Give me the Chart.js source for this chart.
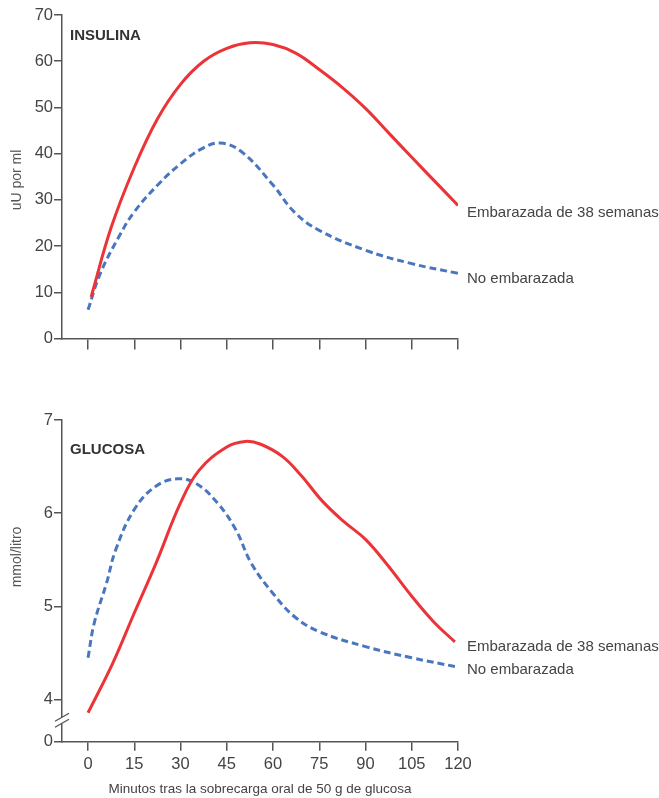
<!DOCTYPE html>
<html>
<head>
<meta charset="utf-8">
<title>Insulina y glucosa tras sobrecarga oral de glucosa</title>
<script src="https://cdn.jsdelivr.net/npm/chart.js@4.4.0/dist/chart.umd.min.js"></script>
<style>
  body { margin: 0; background: #fff; }
  .wrap { position: relative; width: 659px; height: 798px; }
  canvas { position: absolute; left: 0; }
  #insulinChart { top: 0; }
  #glucoseChart { top: 400px; }
</style>
</head>
<body>
<div class="wrap">
  <canvas id="insulinChart" width="659" height="370"></canvas>
  <canvas id="glucoseChart" width="659" height="398"></canvas>
</div>
<script>
// minutes after the 50 g oral glucose load
const minuteTicks = [0, 15, 30, 45, 60, 75, 90, 105, 120];
const insulinTicks = [0, 10, 20, 30, 40, 50, 60, 70];
const glucoseTicks = [4, 5, 6, 7];
const glucoseBreak = 3.55;   // foot of the broken axis, labelled "0"

const seriesNames = ['Embarazada de 38 semanas', 'No embarazada'];

// insulin, uU por ml
const insulinPregMin = [1, 7.5, 15, 22.5, 30, 37.5, 45, 52.5, 60, 67.5, 75, 82.5, 90, 97.5, 105, 112.5, 120];
const insulinPreg    = [9, 24, 37, 47.5, 55, 60, 62.8, 64, 63.6, 61.7, 58.2, 54.3, 49.8, 44.5, 39.2, 34, 28.8];
const insulinNoPregMin = [0, 4, 10, 15, 23, 30, 37, 43, 50, 60, 67, 75, 90, 105, 120];
const insulinNoPreg    = [6.2, 14.1, 22, 27.4, 33.5, 37.8, 41.1, 42.3, 40.3, 33.2, 27.3, 23.4, 19.1, 16.2, 14.1];

// glucose, mmol/litro
const glucosePregMin = [0, 8, 15, 22, 30, 36, 45, 51, 56, 63, 69, 76, 83, 90, 97, 105, 112, 119];
const glucosePreg    = [3.86, 4.39, 4.93, 5.46, 6.11, 6.46, 6.71, 6.77, 6.74, 6.61, 6.41, 6.13, 5.91, 5.72, 5.45, 5.11, 4.84, 4.62];
const glucoseNoPregMin = [0, 2, 6, 9, 15, 22, 29, 35, 42, 48, 53, 60, 67, 75, 90, 105, 120];
const glucoseNoPreg    = [4.45, 4.82, 5.25, 5.61, 6.04, 6.29, 6.37, 6.32, 6.11, 5.82, 5.46, 5.14, 4.89, 4.73, 4.57, 4.45, 4.35];

const RED = '#ec3338';
const BLUE = '#4a76c0';
const AXIS = '#555';
const TEXT = '#444';
const FONT = '"Liberation Sans", Arial, sans-serif';

function toPoints(xs, ys) {
  return xs.map((x, i) => ({ x: x, y: ys[i] }));
}

// panel title, y title, end-of-line labels and the axis break
const annotate = {
  id: 'annotate',
  afterDatasetsDraw(chart, args, opts) {
    const ctx = chart.ctx;
    const area = chart.chartArea;
    ctx.save();
    ctx.textBaseline = 'middle';

    ctx.fillStyle = '#333';
    ctx.font = 'bold 15px ' + FONT;
    ctx.textAlign = 'left';
    ctx.fillText(opts.title, area.left + 8, area.top + opts.titleDy);

    ctx.save();
    ctx.translate(17, opts.yTitleY);
    ctx.rotate(-Math.PI / 2);
    ctx.textAlign = 'center';
    ctx.fillStyle = '#555';
    ctx.font = '14px ' + FONT;
    ctx.fillText(opts.yTitle, 0, 0);
    ctx.restore();

    ctx.fillStyle = TEXT;
    ctx.font = '15px ' + FONT;
    ctx.textAlign = 'left';
    chart.data.datasets.forEach((ds, i) => {
      const pts = chart.getDatasetMeta(i).data;
      const last = pts[pts.length - 1];
      ctx.fillText(ds.label, area.right + 9, last.y + opts.labelDy[i]);
    });

    if (opts.axisBreak) {
      const y = chart.scales.y.getPixelForValue(opts.axisBreak);
      const x = area.left;
      ctx.fillStyle = '#fff';
      ctx.fillRect(x - 2, y - 3, 4, 6);
      ctx.strokeStyle = AXIS;
      ctx.lineWidth = 1.3;
      ctx.beginPath();
      ctx.moveTo(x - 7, y + 1); ctx.lineTo(x + 7, y - 7);
      ctx.moveTo(x - 7, y + 7); ctx.lineTo(x + 7, y - 1);
      ctx.stroke();
    }
    ctx.restore();
  }
};

function datasets(pregX, pregY, noX, noY) {
  return [
    { label: seriesNames[0], data: toPoints(pregX, pregY), borderColor: RED, borderWidth: 3 },
    { label: seriesNames[1], data: toPoints(noX, noY), borderColor: BLUE, borderWidth: 3, borderDash: [7, 4] }
  ];
}

function panelOptions(cfg) {
  return {
    responsive: false,
    animation: false,
    layout: { padding: { left: 0, right: 201, top: cfg.top, bottom: 0 } },
    elements: {
      point: { radius: 0 },
      line: { tension: 0.4, fill: false }
    },
    plugins: {
      legend: { display: false },
      tooltip: { enabled: false },
      annotate: cfg.annotate
    },
    scales: {
      x: {
        type: 'linear',
        min: -8.44,
        max: 120,
        afterBuildTicks: s => { s.ticks = minuteTicks.map(v => ({ value: v })); },
        afterFit: s => { s.height = cfg.xHeight; },
        border: { color: AXIS, width: 1.5 },
        grid: { drawOnChartArea: false, drawTicks: true, tickLength: cfg.xTickLen, color: AXIS, lineWidth: 1.5 },
        ticks: { display: cfg.xLabels, color: TEXT, font: { family: FONT, size: 16.5 }, padding: 4, maxRotation: 0 },
        title: {
          display: cfg.xLabels,
          text: 'Minutos tras la sobrecarga oral de 50 g de glucosa',
          color: TEXT,
          font: { family: FONT, size: 13.5 },
          padding: { top: 0, bottom: 1 }
        }
      },
      y: {
        min: cfg.yMin,
        max: cfg.yMax,
        afterBuildTicks: s => { s.ticks = cfg.yTicks.map(v => ({ value: v })); },
        afterFit: s => { s.width = 62; },
        border: { color: AXIS, width: 1.5 },
        grid: { drawOnChartArea: false, drawTicks: true, tickLength: 8, color: AXIS, lineWidth: 1.5 },
        ticks: {
          color: TEXT,
          font: { family: FONT, size: 16.5 },
          padding: 1,
          callback: v => (v === glucoseBreak ? '0' : v)
        }
      }
    }
  };
}

new Chart(document.getElementById('insulinChart'), {
  type: 'line',
  data: { datasets: datasets(insulinPregMin, insulinPreg, insulinNoPregMin, insulinNoPreg) },
  options: panelOptions({
    top: 15, xHeight: 31.5, xTickLen: 11, xLabels: false,
    yMin: 0, yMax: 70, yTicks: insulinTicks,
    annotate: { title: 'INSULINA', titleDy: 21, yTitle: 'uU por ml', yTitleY: 180, labelDy: [7, 6] }
  }),
  plugins: [annotate]
});

new Chart(document.getElementById('glucoseChart'), {
  type: 'line',
  data: { datasets: datasets(glucosePregMin, glucosePreg, glucoseNoPregMin, glucoseNoPreg) },
  options: panelOptions({
    top: 20, xHeight: 56.3, xTickLen: 9, xLabels: true,
    yMin: glucoseBreak, yMax: 7, yTicks: [glucoseBreak].concat(glucoseTicks),
    annotate: { title: 'GLUCOSA', titleDy: 30, yTitle: 'mmol/litro', yTitleY: 157, labelDy: [5, 3], axisBreak: 3.78 }
  }),
  plugins: [annotate]
});
</script>
</body>
</html>
